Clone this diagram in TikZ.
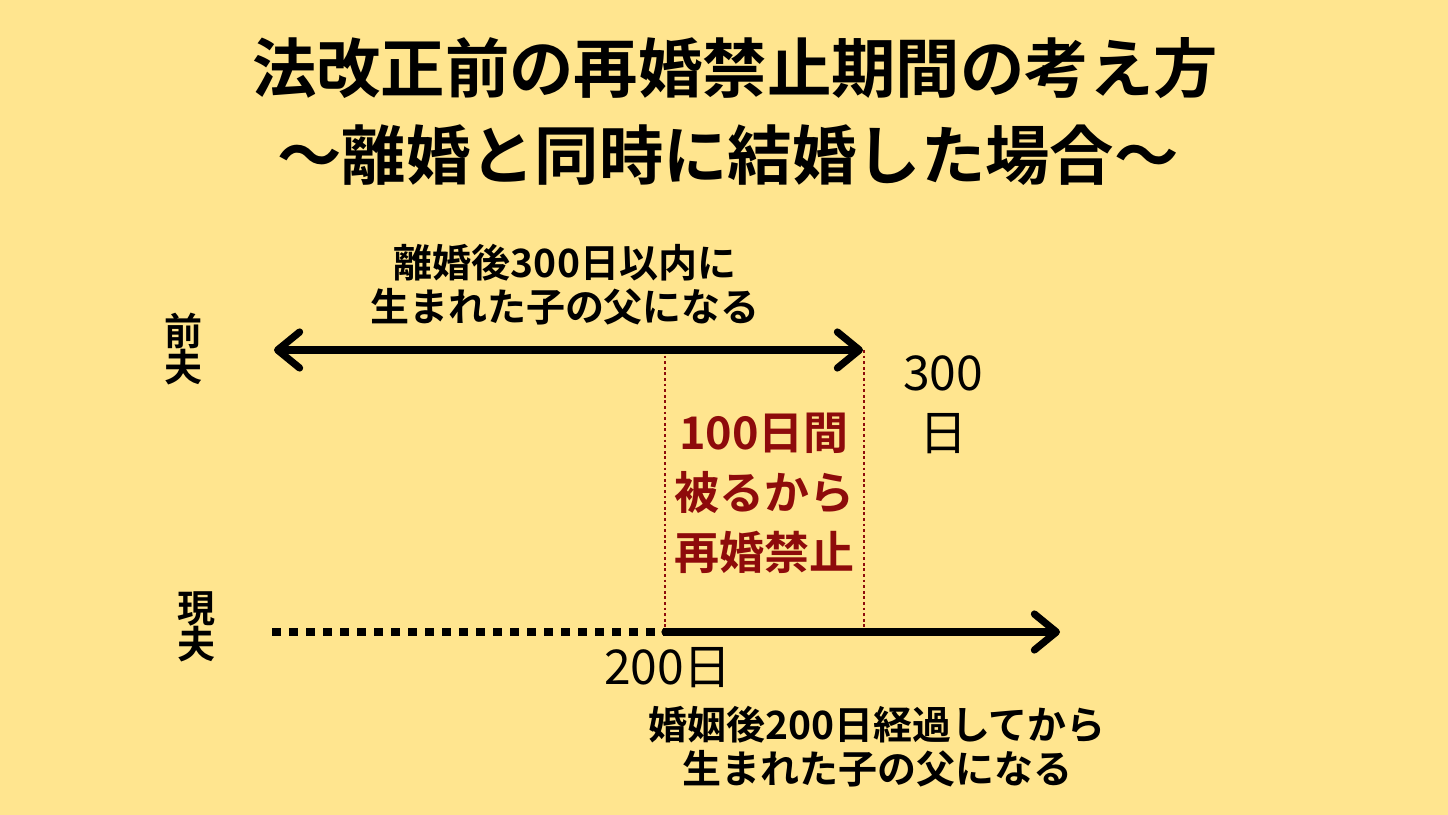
\documentclass[tikz,border=0pt]{standalone}
\usepackage{fontspec}
\setmainfont{Noto Sans CJK JP}[BoldFont={* Bold}]
\usetikzlibrary{arrows.meta}
\definecolor{bg}{HTML}{FFE58F}
\definecolor{dred}{HTML}{8E0B0B}
\tikzset{
  title/.style={font=\bfseries\fontsize{32.2}{44}\selectfont, inner sep=0pt},
  lbl/.style={font=\bfseries\fontsize{19.5}{22}\selectfont, align=center, inner sep=0pt},
  who/.style={font=\bfseries\fontsize{19}{18}\selectfont, align=center, inner sep=0pt},
  num/.style={font=\fontsize{24}{30}\selectfont, align=center, inner sep=0pt},
  redtxt/.style={font=\bfseries\fontsize{22.5}{30}\selectfont, align=center, inner sep=0pt, text=dred},
  mybarb/.tip={Straight Barb[length=11pt, width=18pt, line cap=round, line join=round]},
  thick line/.style={line width=3.6pt, line cap=round},
  reddot/.style={dred, line width=1.3pt, dash pattern=on 1.4pt off 1.4pt},
}
\begin{document}
\begin{tikzpicture}[x=0.5pt,y=-0.5pt]
\fill[bg] (0,0) rectangle (1448,815);
\useasboundingbox (0,0) rectangle (1448,815);
% titles
\node[title] (t1) at (735,68) {法改正前の再婚禁止期間の考え方};
\node[title] (t2) at (728,155) {～離婚と同時に結婚した場合～};
% top label
\node[lbl] (l1) at (565,285) {離婚後300日以内に\\生まれた子の父になる};
\node[who] (zf) at (183,349) {前\\夫};
\node[who] (gf) at (196,627) {現\\夫};
% coordinates
\coordinate (a) at (274,350);
\coordinate (b) at (863,350);
\coordinate (c) at (272,632);
\coordinate (d) at (665,632);
\coordinate (e) at (1060,632);
\coordinate (p) at (665,350);
\coordinate (q) at (864,632);
\coordinate (r) at (864,350);
% red dotted lines
\draw[reddot] (p) -- (d);
\draw[reddot] (r) -- (q);
% arrows
\draw[thick line, mybarb-mybarb] (a) -- (b);
\draw[line width=3.6pt, dash pattern=on 4.5pt off 4pt] (c) -- (d);
\draw[thick line, -mybarb] (d) -- (e);
% numbers
\node[num] (n300) at (943,405) {300\\日};
\node[num] (n200) at (668,668) {200日};
% red text
\node[redtxt] (red) at (764,493) {100日間\\被るから\\再婚禁止};
% bottom label
\node[lbl] (l2) at (877,747) {婚姻後200日経過してから\\生まれた子の父になる};
\end{tikzpicture}
\end{document}
